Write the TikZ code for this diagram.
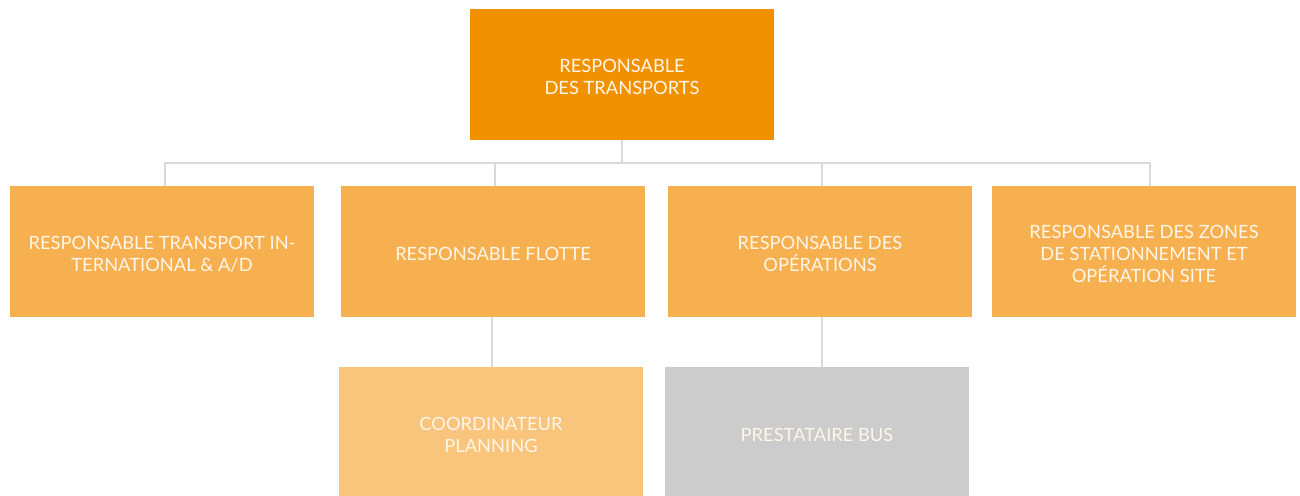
\documentclass[tikz,border=0pt]{standalone}
\usepackage{fontspec}
\setmainfont{Lato}
\definecolor{topc}{HTML}{F29100}
\definecolor{midc}{HTML}{F7B050}
\definecolor{lowc}{HTML}{F9C47C}
\definecolor{busc}{HTML}{CCCCCC}
\definecolor{linec}{HTML}{D9D9D9}
\definecolor{txtc}{HTML}{FFF6EA}
\begin{document}
\begin{tikzpicture}[x=1pt,y=-1pt,
  box/.style={draw=none,minimum width=304pt,inner sep=0pt,align=center,
    text=txtc,font=\fontsize{18.3}{22}\selectfont},
  lbl/.style={text=txtc,font=\fontsize{18.3}{22}\selectfont,align=center,inner sep=0pt},
  link/.style={draw=linec,line width=2.6pt}]
\useasboundingbox[fill=white] (0,0) rectangle (1300,495);
\node[box,fill=topc,minimum height=131pt] (top) at (622,74.5) {};
\node[box,fill=midc,minimum height=131pt] (a) at (162,251.5) {};
\node[box,fill=midc,minimum height=131pt] (b) at (493,251.5) {};
\node[box,fill=midc,minimum height=131pt] (c) at (820,251.5) {};
\node[box,fill=midc,minimum height=131pt] (d) at (1144,251.5) {};
\node[box,fill=lowc,minimum height=130pt] (e) at (491,432) {};
\node[box,fill=busc,minimum height=130pt] (f) at (817,432) {};
\node[lbl] (ttop) at ([yshift=-2.5pt]top.center) {RESPONSABLE\\DES TRANSPORTS};
\node[lbl] (ta) at ([yshift=-2.5pt]a.center) {RESPONSABLE TRANSPORT IN-\\TERNATIONAL \& A/D};
\node[lbl] (tb) at ([yshift=-2.5pt]b.center) {RESPONSABLE FLOTTE};
\node[lbl] (tc) at ([yshift=-2.5pt]c.center) {RESPONSABLE DES\\OPÉRATIONS};
\node[lbl] (td) at ([yshift=-2.5pt]d.center) {RESPONSABLE DES ZONES\\DE STATIONNEMENT ET\\OPÉRATION SITE};
\node[lbl] (te) at ([yshift=-2.5pt]e.center) {COORDINATEUR\\PLANNING};
\node[lbl] (tf) at ([yshift=-2.5pt]f.center) {PRESTATAIRE BUS};
\coordinate (j) at (622,163);
\draw[link] (top.south) -- (j);
\draw[link] ([xshift=3pt]a.north) |- (j) -| ([xshift=6pt]d.north);
\draw[link] ([xshift=2pt]b.north) -- ++(0,-23);
\draw[link] ([xshift=2pt]c.north) -- ++(0,-23);
\draw[link] ([xshift=-1pt]b.south) -- ([xshift=1pt]e.north);
\draw[link] ([xshift=2pt]c.south) -- ([xshift=5pt]f.north);
\end{tikzpicture}
\end{document}
